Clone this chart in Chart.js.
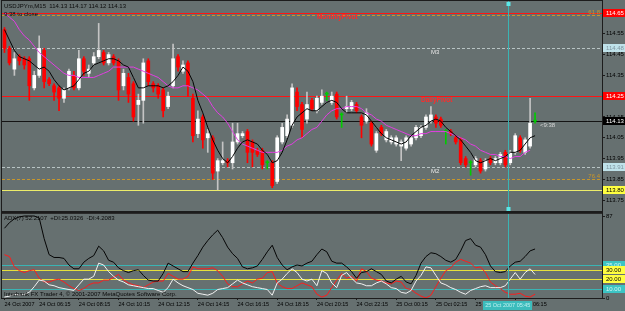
<!DOCTYPE html>
<html>
<head>
<meta charset="utf-8">
<script src="https://cdn.jsdelivr.net/npm/chart.js@4.4.1/dist/chart.umd.min.js"></script>
<style>
  html, body { margin: 0; padding: 0; background: #667070; }
  #wrap { position: relative; width: 625px; height: 311px; background: #667070; overflow: hidden; }
  canvas { position: absolute; left: 0; }
  #main { top: 0; }
  #ind { top: 212px; }
</style>
</head>
<body>
<div id="wrap">
  <canvas id="main" width="625" height="212" style="width:625px;height:212px"></canvas>
  <canvas id="ind" width="625" height="99" style="width:625px;height:99px"></canvas>
</div>
<script>
/*
  USDJPYm M15 — candles + 2 MAs, ADX sub window (MT4 look)
*/

// ---------- Data ----------
const symbolTitle = 'USDJPYm,M15  114.13 114.17 114.12 114.13';
const closeTimer = '9:38 to close';
const adxTitle = 'ADX(7) 52.2107  +DI:25.0326  -DI:4.2083';
const footer = 'Interbank FX Trader 4, \u00a9 2001-2007 MetaQuotes Software Corp.';

const opens = [
  114.57,114.48,114.38,114.44,114.43,114.43,114.29,114.35,114.47,114.33,
  114.30,114.29,114.24,114.29,114.35,114.29,114.43,114.36,114.41,114.44,
  114.46,114.41,114.44,114.42,114.30,114.34,114.31,114.21,114.23,114.42,
  114.31,114.30,114.28,114.20,114.30,114.44,114.37,114.41,114.24,114.07,
  114.15,114.05,114.05,113.89,113.93,113.94,113.93,114.03,114.06,114.08,
  114.03,113.99,113.99,113.93,113.93,113.84,114.03,114.06,114.11,114.27,
  114.21,114.14,114.23,114.18,114.22,114.26,114.22,114.26,114.16,114.19,
  114.19,114.21,114.15,114.13,114.12,113.99,114.10,114.04,114.03,114.02,
  114.01,114.00,114.02,114.05,114.06,114.10,114.13,114.15,114.14,114.08,
  114.08,114.05,114.04,113.95,113.93,113.92,113.94,113.90,113.95,113.93,
  113.93,113.98,113.93,113.98,114.05,113.98,114.01,114.13
];
const highs = [
  114.58,114.49,114.46,114.45,114.44,114.44,114.37,114.54,114.48,114.34,
  114.31,114.30,114.29,114.38,114.37,114.47,114.44,114.40,114.46,114.60,
  114.47,114.46,114.45,114.43,114.38,114.36,114.32,114.26,114.43,114.43,
  114.32,114.31,114.29,114.27,114.50,114.45,114.42,114.42,114.26,114.18,
  114.16,114.09,114.06,113.95,114.03,113.95,114.12,114.12,114.08,114.09,
  114.04,114.00,114.00,113.94,113.94,114.06,114.12,114.16,114.31,114.29,
  114.22,114.27,114.24,114.25,114.28,114.27,114.27,114.27,114.17,114.25,
  114.23,114.22,114.16,114.19,114.13,114.08,114.11,114.09,114.06,114.06,
  114.04,114.06,114.06,114.11,114.11,114.16,114.20,114.16,114.15,114.09,
  114.09,114.06,114.05,113.96,113.94,113.96,113.95,113.95,113.96,113.96,
  113.98,113.99,113.99,114.07,114.06,114.05,114.24,114.17
];
const lows = [
  114.46,114.40,114.35,114.40,114.38,114.23,114.28,114.34,114.29,114.30,
  114.23,114.18,114.22,114.28,114.28,114.28,114.35,114.34,114.40,114.43,
  114.40,114.40,114.40,114.23,114.28,114.22,114.13,114.11,114.12,114.30,
  114.27,114.24,114.15,114.19,114.29,114.37,114.36,114.25,114.03,114.05,
  114.00,113.98,113.85,113.80,113.92,113.91,113.90,114.02,114.05,113.93,
  113.91,113.96,113.90,113.90,113.81,113.83,114.02,114.05,114.10,114.18,
  114.05,114.12,114.18,114.17,114.21,114.23,114.21,114.14,114.10,114.17,
  114.18,114.17,114.05,114.12,114.01,113.98,114.06,114.03,114.02,114.01,
  113.94,113.99,114.01,114.04,114.05,114.09,114.12,114.10,114.10,114.02,
  114.06,114.02,113.92,113.91,113.87,113.91,113.88,113.89,113.92,113.92,
  113.92,113.91,113.92,113.97,113.98,113.97,114.00,114.12
];
const closes = [
  114.48,114.41,114.43,114.42,114.40,114.30,114.35,114.48,114.32,114.31,
  114.27,114.24,114.28,114.37,114.29,114.43,114.37,114.38,114.44,114.47,
  114.41,114.45,114.41,114.28,114.36,114.26,114.15,114.23,114.41,114.32,
  114.29,114.26,114.18,114.25,114.43,114.39,114.40,114.30,114.06,114.14,
  114.04,114.07,113.88,113.94,113.94,113.93,114.03,114.07,114.07,113.98,
  113.98,113.97,113.92,113.93,113.82,114.05,114.10,114.14,114.29,114.20,
  114.09,114.21,114.19,114.24,114.25,114.26,114.25,114.15,114.16,114.20,
  114.22,114.18,114.11,114.17,114.02,114.07,114.07,114.08,114.05,114.05,
  114.03,114.05,114.05,114.10,114.10,114.15,114.16,114.12,114.11,114.08,
  114.07,114.03,113.93,113.92,113.93,113.95,113.89,113.94,113.93,113.95,
  113.97,113.92,113.98,114.06,113.99,114.04,114.12,114.13
];

// black (fast) and magenta (slow) moving averages
const fastMA = [
  114.57,114.52,114.47,114.44,114.43,114.42,114.40,114.38,114.39,114.37,
  114.33,114.30,114.28,114.29,114.30,114.33,114.36,114.37,114.40,114.41,
  114.42,114.43,114.43,114.42,114.40,114.39,114.34,114.29,114.29,114.30,
  114.30,114.30,114.29,114.30,114.32,114.35,114.39,114.37,114.32,114.23,
  114.17,114.10,114.04,113.99,113.95,113.93,113.96,114.00,114.03,114.04,
  114.03,114.02,113.99,113.97,113.93,113.94,113.98,114.04,114.11,114.15,
  114.17,114.19,114.18,114.18,114.20,114.22,114.23,114.22,114.19,114.17,
  114.17,114.17,114.17,114.16,114.13,114.10,114.07,114.05,114.04,114.03,
  114.02,114.03,114.06,114.08,114.10,114.11,114.13,114.14,114.13,114.10,
  114.08,114.06,114.04,114.01,113.98,113.94,113.93,113.94,113.95,113.94,
  113.95,113.96,113.98,113.98,113.99,114.02,114.05,114.06
];
const slowMA = [
  114.65,114.63,114.61,114.57,114.54,114.52,114.49,114.46,114.44,114.42,
  114.40,114.38,114.36,114.35,114.35,114.34,114.34,114.34,114.34,114.35,
  114.36,114.37,114.39,114.39,114.39,114.39,114.39,114.38,114.37,114.36,
  114.35,114.34,114.32,114.30,114.29,114.29,114.30,114.30,114.29,114.28,
  114.26,114.24,114.20,114.17,114.15,114.12,114.08,114.04,114.02,114.01,
  114.00,113.99,113.98,113.98,113.98,113.98,113.99,114.01,114.02,114.04,
  114.05,114.07,114.09,114.10,114.13,114.16,114.18,114.19,114.19,114.20,
  114.20,114.20,114.19,114.17,114.16,114.14,114.13,114.11,114.10,114.09,
  114.08,114.07,114.06,114.06,114.07,114.07,114.08,114.08,114.08,114.08,
  114.07,114.06,114.05,114.04,114.02,114.01,113.99,113.98,113.97,113.97,
  113.96,113.96,113.95,113.96,113.96,113.98,113.99,null
];

// ADX sub window
const adx = [
  74,80,84,86,87,87,87,85,63,46,
  43,43,42,35,31,31,38,42,45,55,
  50,40,38,32,29,27,29,30,24,19,
  18,18,26,37,34,31,28,28,37,45,
  54,61,67,72,64,54,47,42,33,31,
  32,34,41,49,56,43,35,30,33,35,
  34,37,39,46,52,49,39,37,37,33,
  28,21,27,28,31,28,25,18,16,20,
  23,17,15,24,37,44,48,47,44,40,
  38,41,50,61,63,56,54,46,34,28,
  27,28,34,38,39,44,50,52
];
const plusDI = [
  1,2,4,3,4,6,12,19,18,14,
  13,11,10,9,8,14,20,20,23,37,
  35,28,23,19,17,14,13,12,11,10,
  10,8,6,11,20,16,13,11,9,5,
  4,3,5,9,10,11,15,19,16,14,
  12,11,10,9,3,16,20,26,31,27,
  20,18,20,13,29,26,16,11,24,27,
  21,16,15,13,13,16,18,15,11,10,
  6,5,8,18,24,33,32,24,16,14,
  11,9,6,4,8,10,12,13,11,11,
  11,13,20,27,20,27,31,25
];
const minusDI = [
  46,44,33,29,27,29,30,21,17,17,
  19,20,17,13,10,8,10,14,16,16,
  19,19,22,25,19,16,14,13,11,14,
  17,18,18,26,23,20,20,23,33,31,
  31,31,32,29,23,15,12,12,15,18,
  16,20,21,27,28,16,12,10,10,13,
  16,14,12,4,1,3,11,19,26,21,
  23,18,31,28,21,19,18,16,15,18,
  17,10,9,5,2,0,3,12,21,29,
  32,38,41,39,37,32,33,27,17,13,
  10,6,4,4,5,2,1,4
];

// axes
const priceTicks = [114.55, 114.45, 114.35, 114.15, 114.05, 113.95, 113.85, 113.75];
const adxTicks = [0, 87];
const timeTickBars = [0, 7, 15, 23, 31, 39, 47, 55, 63, 71, 79, 87, 95, 103];
const timeTickLabels = ['24 Oct 2007', '24 Oct 06:15', '24 Oct 08:15', '24 Oct 10:15', '24 Oct 12:15',
  '24 Oct 14:15', '24 Oct 16:15', '24 Oct 18:15', '24 Oct 20:15', '24 Oct 22:15',
  '25 Oct 00:15', '25 Oct 02:15', '25 Oct 04:15', '25 Oct 06:15'];

// horizontal objects on the price window
const levelKeys   = ['monthly', 'fib618', 'm3', 'daily', 'bid', 'm2', 'fib764', 'support'];
const levelPrices = [114.65, 114.64, 114.48, 114.25, 114.13, 113.91, 113.85, 113.80];
const levelTexts  = ['MonthlyPivot', '61.8', 'M3', 'DailyPivot', '<9:38', 'M2', '76.4', ''];

// levels on the ADX window
const adxLevels = [35, 30, 20, 10];

// crosshair (vertical line) sits between these bars, and its time label
const crossBar = 101.5;
const crossLabel = '25 Oct 2007 05:45';

// ---------- Style ----------
const SLOTS = 121;                       // chart shift leaves empty bars on the right
const slots = Array.from({ length: SLOTS }, (_, i) => i);
const FONT = '"Liberation Sans", Arial, sans-serif';
const AXIS = '#1c1c1c';
const BODY = { up: '#ffffff', down: '#ff0000', doji: '#00cc00' };
const WICK = { up: '#c4c4c4', down: '#ff0000', doji: '#00cc00' };
const CYAN = '#3ab4b4';

const LEVEL_STYLE = {
  monthly: { color: '#ff1414', dash: [], box: '#ff0000', boxText: '#ffffff', textColor: '#ff2a2a', textBar: 63, where: 'below' },
  fib618:  { color: '#c8962a', dash: [3, 2], textColor: '#c8962a', where: 'right' },
  m3:      { color: '#b8c4c4', dash: [3, 2], box: '#bfe2ea', boxText: '#7f95a0', textColor: '#e8e8e8', textBar: 86, where: 'below' },
  daily:   { color: '#ff1414', dash: [], box: '#ff0000', boxText: '#ffffff', textColor: '#ff2a2a', textBar: 84, where: 'below' },
  bid:     { color: '#141414', dash: [], box: '#000000', boxText: '#ffffff', textColor: '#d8d8d8', textBar: 108, where: 'below' },
  m2:      { color: '#b8c4c4', dash: [3, 2], box: '#bfe2ea', boxText: '#7f95a0', textColor: '#e8e8e8', textBar: 86, where: 'below' },
  fib764:  { color: '#c8962a', dash: [3, 2], textColor: '#c8962a', where: 'right' },
  support: { color: '#ecec6a', dash: [], box: '#ffff40', boxText: '#000000' },
};
const ADX_LEVEL_STYLE = {
  35: { color: CYAN, box: '#3cc4c4', boxText: '#d6f6f6' },
  30: { color: '#e6e03c', box: '#ffff40', boxText: '#000000' },
  20: { color: '#e6e03c', box: '#ffff40', boxText: '#000000' },
  10: { color: CYAN, box: '#3cc4c4', boxText: '#d6f6f6' },
};

const kinds = opens.map((o, i) => closes[i] > o ? 'up' : (closes[i] < o ? 'down' : 'doji'));

// ---------- Helpers ----------
function hline(ctx, x0, x1, y, color, dash){
  ctx.save();
  ctx.strokeStyle = color; ctx.lineWidth = 1; ctx.setLineDash(dash || []);
  ctx.beginPath(); ctx.moveTo(x0, y); ctx.lineTo(x1, y); ctx.stroke();
  ctx.restore();
}
function axisBox(ctx, x, y, w, fill, textColor, text){
  ctx.fillStyle = fill;
  ctx.fillRect(x, Math.round(y) - 4, w, 8);
  ctx.fillStyle = textColor;
  ctx.font = '6px ' + FONT;
  ctx.textAlign = 'left'; ctx.textBaseline = 'middle';
  ctx.fillText(text, x + 3, Math.round(y) + 0.5);
}
function frame(ctx, a){
  ctx.save();
  ctx.strokeStyle = AXIS; ctx.lineWidth = 1;
  ctx.strokeRect(a.left - 0.5, a.top - 0.5, a.right - a.left + 1, a.bottom - a.top + 1);
  ctx.restore();
}

// ---------- Main window overlay ----------
const mainOverlay = {
  id: 'mainOverlay',
  beforeDatasetsDraw(chart){
    const { ctx, chartArea: a, scales: { y } } = chart;
    levelPrices.forEach((p, i) => {
      const st = LEVEL_STYLE[levelKeys[i]];
      hline(ctx, a.left, a.right, Math.round(y.getPixelForValue(p)) + 0.5, st.color, st.dash);
    });
  },
  afterDatasetsDraw(chart){
    const { ctx, chartArea: a, scales: { x } } = chart;
    const cx = Math.round(x.getPixelForValue(crossBar)) + 0.5;
    ctx.save();
    ctx.strokeStyle = CYAN; ctx.lineWidth = 1;
    ctx.beginPath(); ctx.moveTo(cx, a.top); ctx.lineTo(cx, a.bottom); ctx.stroke();
    ctx.fillStyle = '#5ce8e8';
    ctx.fillRect(cx - 2, a.top + 1, 4, 4);
    ctx.fillRect(cx - 2, a.bottom - 4, 4, 4);
    ctx.restore();
  },
  afterDraw(chart){
    const { ctx, chartArea: a, scales: { x, y } } = chart;
    ctx.save();
    frame(ctx, a);
    // title lines
    ctx.font = '6px ' + FONT;
    ctx.textAlign = 'left'; ctx.textBaseline = 'top';
    ctx.fillStyle = '#0a0a0a';
    ctx.fillText(symbolTitle, a.left + 2, a.top + 2);
    ctx.fillText(closeTimer, a.left + 2, a.top + 10);
    // object texts
    levelPrices.forEach((p, i) => {
      const st = LEVEL_STYLE[levelKeys[i]];
      const txt = levelTexts[i];
      if (!txt) return;
      const py = y.getPixelForValue(p);
      ctx.fillStyle = st.textColor;
      if (st.where === 'right'){
        ctx.font = '6px ' + FONT;
        ctx.textAlign = 'right'; ctx.textBaseline = 'bottom';
        ctx.fillText(txt, a.right - 2, py);
      } else {
        ctx.font = (levelKeys[i] === 'monthly' || levelKeys[i] === 'daily' ? 'bold 6.5px ' : '6px ') + FONT;
        ctx.textAlign = 'left'; ctx.textBaseline = 'top';
        ctx.fillText(txt, x.getPixelForValue(st.textBar), py + 1);
      }
    });
    // price boxes on the axis
    levelPrices.forEach((p, i) => {
      const st = LEVEL_STYLE[levelKeys[i]];
      if (!st.box) return;
      axisBox(ctx, a.right + 1, y.getPixelForValue(p), chart.width - a.right - 1, st.box, st.boxText, p.toFixed(2));
    });
    ctx.restore();
  }
};

// ---------- ADX window overlay ----------
const adxOverlay = {
  id: 'adxOverlay',
  beforeDatasetsDraw(chart){
    const { ctx, chartArea: a, scales: { y } } = chart;
    adxLevels.forEach(v => {
      hline(ctx, a.left, a.right, Math.round(y.getPixelForValue(v)) + 0.5, ADX_LEVEL_STYLE[v].color, []);
    });
  },
  afterDatasetsDraw(chart){
    const { ctx, chartArea: a, scales: { x } } = chart;
    const cx = Math.round(x.getPixelForValue(crossBar)) + 0.5;
    ctx.save();
    ctx.strokeStyle = CYAN; ctx.lineWidth = 1;
    ctx.beginPath(); ctx.moveTo(cx, 0); ctx.lineTo(cx, a.bottom); ctx.stroke();
    ctx.restore();
  },
  afterDraw(chart){
    const { ctx, chartArea: a, scales: { x, y } } = chart;
    ctx.save();
    // separator between windows
    ctx.fillStyle = '#2a2a2a';
    ctx.fillRect(a.left - 1, 0, a.right - a.left + 2, 2);
    frame(ctx, a);
    ctx.font = '6px ' + FONT;
    ctx.textAlign = 'left'; ctx.textBaseline = 'top';
    ctx.fillStyle = '#0a0a0a';
    ctx.fillText(adxTitle, a.left + 2, a.top + 2);
    ctx.textBaseline = 'bottom';
    ctx.fillText(footer, a.left + 2, a.bottom - 1);
    adxLevels.forEach(v => {
      const st = ADX_LEVEL_STYLE[v];
      axisBox(ctx, a.right + 1, y.getPixelForValue(v), chart.width - a.right - 1, st.box, st.boxText, v.toFixed(2));
    });
    // crosshair time box
    const cx = x.getPixelForValue(crossBar);
    ctx.font = '5.5px ' + FONT;
    const w = ctx.measureText(crossLabel).width + 4;
    ctx.fillStyle = '#3cbcbc';
    ctx.fillRect(Math.round(cx - w / 2), a.bottom + 3, Math.round(w), 9);
    ctx.fillStyle = '#bff0f0';
    ctx.textAlign = 'center'; ctx.textBaseline = 'middle';
    ctx.fillText(crossLabel, cx, a.bottom + 7.5);
    ctx.restore();
  }
};

// ---------- Charts ----------
Chart.defaults.font.family = FONT;
Chart.defaults.color = '#000';

new Chart(document.getElementById('main'), {
  type: 'bar',
  data: {
    labels: slots,
    datasets: [
      { type: 'line', data: fastMA, borderColor: '#050505', borderWidth: 1, pointRadius: 0, tension: 0, order: 1 },
      { type: 'line', data: slowMA, borderColor: '#e23ee2', borderWidth: 1, pointRadius: 0, tension: 0, order: 2 },
      { data: opens.map((o, i) => [o, closes[i]]), backgroundColor: kinds.map(k => BODY[k]),
        barThickness: 3, grouped: false, minBarLength: 1, borderWidth: 0, order: 3 },
      { data: lows.map((l, i) => [l, highs[i]]), backgroundColor: kinds.map(k => WICK[k]),
        barThickness: 1, grouped: false, borderWidth: 0, order: 4 },
    ]
  },
  options: {
    responsive: false,
    animation: false,
    events: [],
    layout: { padding: { left: 2, top: 1, right: 0, bottom: 1 } },
    plugins: { legend: { display: false }, tooltip: { enabled: false } },
    scales: {
      x: { display: false, offset: true },
      y: {
        position: 'right',
        min: 113.698, max: 114.7077,
        afterBuildTicks: s => { s.ticks = priceTicks.map(v => ({ value: v })); },
        afterFit: s => { s.width = 23; s.paddingTop = 0; s.paddingBottom = 0; },
        ticks: { font: { size: 6 }, color: '#000', padding: 1, callback: v => Number(v).toFixed(2) },
        grid: { drawOnChartArea: false, tickLength: 3, color: AXIS },
        border: { color: AXIS }
      }
    }
  },
  plugins: [mainOverlay]
});

new Chart(document.getElementById('ind'), {
  type: 'line',
  data: {
    labels: slots,
    datasets: [
      { data: adx, borderColor: '#050505', borderWidth: 1, pointRadius: 0, tension: 0 },
      { data: plusDI, borderColor: '#f2f2f2', borderWidth: 1, pointRadius: 0, tension: 0 },
      { data: minusDI, borderColor: '#ff1c1c', borderWidth: 1, pointRadius: 0, tension: 0 },
    ]
  },
  options: {
    responsive: false,
    animation: false,
    events: [],
    layout: { padding: { left: 2, top: 1, right: 0, bottom: 0 } },
    plugins: { legend: { display: false }, tooltip: { enabled: false } },
    scales: {
      x: {
        offset: true,
        afterFit: s => { s.height = 13; s.paddingLeft = 0; s.paddingRight = 0; },
        ticks: {
          autoSkip: false, maxRotation: 0, minRotation: 0, align: 'start', padding: 1,
          font: { size: 5.5 }, color: '#000',
          callback: (v, i) => { const k = timeTickBars.indexOf(i); return k < 0 ? null : timeTickLabels[k]; }
        },
        grid: { drawOnChartArea: false, tickLength: 2, color: AXIS },
        border: { color: AXIS }
      },
      y: {
        position: 'right',
        min: 0, max: 90.2,
        afterBuildTicks: s => { s.ticks = adxTicks.map(v => ({ value: v })); },
        afterFit: s => { s.width = 23; s.paddingTop = 0; s.paddingBottom = 0; },
        ticks: { font: { size: 6 }, color: '#000', padding: 1, callback: v => String(v) },
        grid: { drawOnChartArea: false, tickLength: 3, color: AXIS },
        border: { color: AXIS }
      }
    }
  },
  plugins: [adxOverlay]
});
</script>
</body>
</html>
